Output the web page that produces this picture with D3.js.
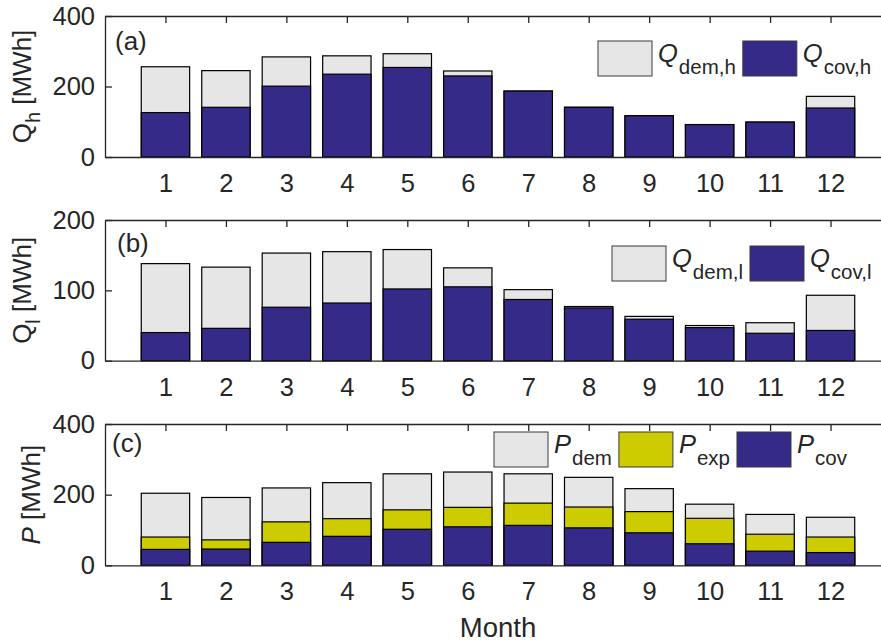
<!DOCTYPE html>
<html>
<head>
<meta charset="utf-8">
<script src="https://cdn.jsdelivr.net/npm/d3@7"></script>
<style>
  body { margin: 0; background: #fff; }
  text { font-family: "Liberation Sans", Arial, Helvetica, sans-serif; fill: #262626; }
  .axis path, .axis line { stroke: #262626; stroke-width: 1.3; }
  .axis text { font-size: 25.5px; fill: #262626; font-family: "Liberation Sans", Arial, sans-serif; }
</style>
</head>
<body>
<svg id="chart" width="881" height="644"></svg>
<script>
// monthly values [MWh]
var months = [1, 2, 3, 4, 5, 6, 7, 8, 9, 10, 11, 12];

var qhDem = [256, 245, 284, 287, 293, 244, 187, 141, 117, 92, 99, 172];
var qhCov = [126, 141, 201, 235, 254, 230, 187, 141, 117, 92, 99, 139];

var qlDem = [138, 133, 153, 155, 158, 132, 101, 77, 63, 50, 54, 93];
var qlCov = [40, 46, 76, 82, 102, 105, 87, 75, 59, 47, 39, 43];

var pDem = [204, 192, 219, 234, 259, 264, 259, 249, 217, 173, 144, 136];
var pExp = [80, 72, 123, 132, 157, 164, 176, 165, 152, 133, 88, 80];
var pCov = [45, 46, 65, 82, 102, 109, 113, 106, 92, 61, 40, 36];

var ticksA = [0, 200, 400],
  ticksB = [0, 100, 200],
  ticksC = [0, 200, 400];

var legendA = [["Q", "dem,h"], ["Q", "cov,h"]],
  legendB = [["Q", "dem,l"], ["Q", "cov,l"]],
  legendC = [["P", "dem"], ["P", "exp"], ["P", "cov"]];

var grey = "#e6e6e6", yellow = "#cccc00", blue = "#352a87";

var svg = d3.select("#chart");

var x = d3.scaleLinear().domain([0, 13]).range([105, 891]);
var barW = 0.8 * (x(1) - x(0));

var panels = [
  { top: 16, bottom: 157, ticks: ticksA, series: [qhDem, qhCov], colors: [grey, blue],
    tag: "(a)", tagX: 115, tagY: 50, ylab: "Q", ysub: "h", yItalic: false, ylabX: 31,
    legend: legendA, legX: 598, legY: 41 },
  { top: 220, bottom: 360.7, ticks: ticksB, series: [qlDem, qlCov], colors: [grey, blue],
    tag: "(b)", tagX: 117, tagY: 252, ylab: "Q", ysub: "l", yItalic: false, ylabX: 31,
    legend: legendB, legX: 612, legY: 246 },
  { top: 424, bottom: 565.3, ticks: ticksC, series: [pDem, pExp, pCov], colors: [grey, yellow, blue],
    tag: "(c)", tagX: 112, tagY: 452, ylab: "P", ysub: null, yItalic: true, ylabX: 40,
    legend: legendC, legX: 494, legY: 432 }
];

panels.forEach(function (p) {
  var y = d3.scaleLinear().domain([0, d3.max(p.ticks)]).range([p.bottom, p.top]);
  var g = svg.append("g");

  // bars, drawn from zero on top of each other (demand behind, covered in front)
  p.series.forEach(function (vals, i) {
    g.append("g").selectAll("rect")
      .data(vals)
      .enter().append("rect")
      .attr("x", function (d, j) { return x(months[j]) - barW / 2; })
      .attr("y", function (d) { return y(d); })
      .attr("width", barW)
      .attr("height", function (d) { return y(0) - y(d); })
      .attr("fill", p.colors[i])
      .attr("stroke", "#000")
      .attr("stroke-width", 1.2);
  });

  // bottom axis with month labels
  g.append("g")
    .attr("class", "axis")
    .attr("transform", "translate(0," + p.bottom + ")")
    .call(d3.axisBottom(x).tickValues(months).tickSizeInner(0).tickSizeOuter(0).tickPadding(17));

  // top box line with inward ticks
  g.append("g")
    .attr("class", "axis")
    .attr("transform", "translate(0," + p.top + ")")
    .call(d3.axisBottom(x).tickValues(months).tickSizeInner(7).tickSizeOuter(0).tickFormat(""));

  // left axis, ticks pointing inward
  g.append("g")
    .attr("class", "axis")
    .attr("transform", "translate(" + x(0) + ",0)")
    .call(d3.axisLeft(y).tickValues(p.ticks).tickSizeInner(-7).tickSizeOuter(0).tickPadding(10));

  g.selectAll(".axis text").attr("fill", "#262626");

  // y label
  var yl = g.append("text")
    .attr("transform", "translate(" + p.ylabX + "," + (p.top + p.bottom) / 2 + ") rotate(-90)")
    .attr("text-anchor", "middle")
    .style("font-size", "26px");
  yl.append("tspan").text(p.ylab).style("font-style", p.yItalic ? "italic" : "normal");
  if (p.ysub) {
    yl.append("tspan").attr("dy", 9).style("font-size", "20px").text(p.ysub);
    yl.append("tspan").attr("dy", -9).text(" [MWh]");
  } else {
    yl.append("tspan").text(" [MWh]");
  }

  // panel tag
  g.append("text")
    .attr("x", p.tagX)
    .attr("y", p.tagY)
    .style("font-size", "26px")
    .text(p.tag);

  // legend
  var cx = p.legX;
  p.legend.forEach(function (e, i) {
    g.append("rect")
      .attr("x", cx)
      .attr("y", p.legY)
      .attr("width", 54)
      .attr("height", 35)
      .attr("fill", p.colors[i])
      .attr("stroke", "#3a3a3a")
      .attr("stroke-width", 1);
    var t = g.append("text")
      .attr("x", cx + 60)
      .attr("y", p.legY + 21)
      .style("font-size", "25.5px");
    t.append("tspan").style("font-style", "italic").text(e[0]);
    t.append("tspan").attr("dx", 1).attr("dy", 11.5).style("font-size", "20.5px").text(e[1]);
    cx = cx + 60 + t.node().getComputedTextLength() + 8;
  });
});

// x label
svg.append("text")
  .attr("x", (x(0) + x(13)) / 2)
  .attr("y", 637)
  .attr("text-anchor", "middle")
  .style("font-size", "27.5px")
  .text("Month");
</script>
</body>
</html>
